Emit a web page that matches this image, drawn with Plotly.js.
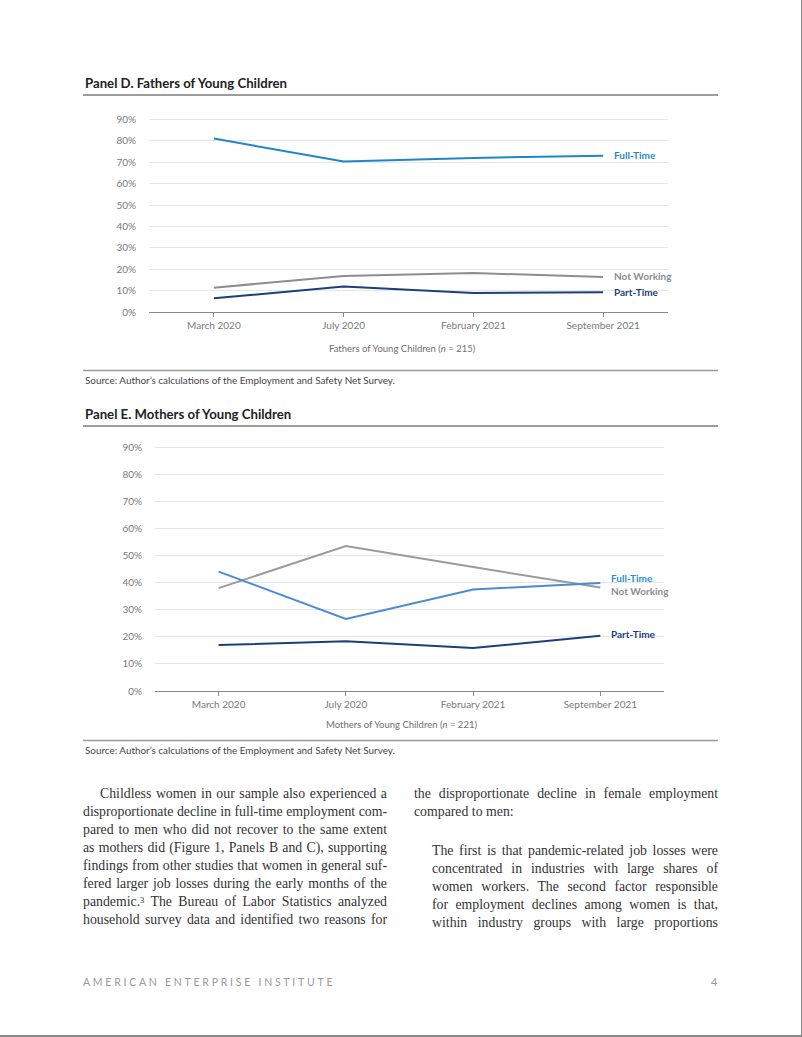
<!DOCTYPE html>
<html><head><meta charset="utf-8">
<script src="https://cdn.plot.ly/plotly-3.0.1.min.js"></script>
<style>
html,body{margin:0;padding:0;background:#fff;}
#page{position:relative;width:802px;height:1037px;overflow:hidden;background:#fff;}
#chart{position:absolute;left:0;top:0;width:802px;height:1037px;}
.col{position:absolute;font-family:"Liberation Serif","Times New Roman",serif;font-size:13.8px;line-height:18px;color:#333;}
.col .ln{white-space:nowrap;}
.col .ln span{display:inline-block;}
sup{font-size:8.5px;vertical-align:3px;line-height:0;}
#footer{position:absolute;left:83px;top:976px;font-family:Lato,sans-serif;font-size:10.5px;letter-spacing:2.75px;color:#9a9a9a;}
#pnum{position:absolute;left:711px;top:975px;font-family:Lato,sans-serif;font-size:11px;color:#9a9a9a;}
#rb{position:absolute;right:0;top:0;width:1px;height:1037px;background:#8a8a8a;}
#bb{position:absolute;left:0;bottom:0;width:802px;height:2px;background:#8a8a8a;}
</style></head>
<body>
<div id="page">
<div id="chart"></div>
<div class="col" id="left" style="left:83px;top:785px;width:304px;">
<div class="ln j" style="padding-left:17px"><span>Childless women in our sample also experienced a</span></div>
<div class="ln j"><span>disproportionate decline in full-time employment com-</span></div>
<div class="ln j"><span>pared to men who did not recover to the same extent</span></div>
<div class="ln j"><span>as mothers did (Figure 1, Panels B and C), supporting</span></div>
<div class="ln j"><span>findings from other studies that women in general suf-</span></div>
<div class="ln j"><span>fered larger job losses during the early months of the</span></div>
<div class="ln j"><span>pandemic.<sup>3</sup> The Bureau of Labor Statistics analyzed</span></div>
<div class="ln j"><span>household survey data and identified two reasons for</span></div>
</div>
<div class="col" id="right" style="left:414px;top:785px;width:304px;">
<div class="ln j"><span>the disproportionate decline in female employment</span></div>
<div class="ln"><span>compared to men:</span></div>
</div>
<div class="col" id="quote" style="left:432px;top:842px;width:286px;">
<div class="ln j"><span>The first is that pandemic-related job losses were</span></div>
<div class="ln j"><span>concentrated in industries with large shares of</span></div>
<div class="ln j"><span>women workers. The second factor responsible</span></div>
<div class="ln j"><span>for employment declines among women is that,</span></div>
<div class="ln j"><span>within industry groups with large proportions</span></div>
</div>
<div id="footer">AMERICAN ENTERPRISE INSTITUTE</div>
<div id="pnum">4</div>
<div id="rb"></div><div id="bb"></div>
</div>
<script>
// ---- Data ----
const periods = ['March 2020', 'July 2020', 'February 2021', 'September 2021'];
const fathersFullTime   = [0.81, 0.703, 0.72, 0.73];
const fathersNotWorking = [0.115, 0.169, 0.183, 0.165];
const fathersPartTime   = [0.065, 0.12, 0.09, 0.094];
const mothersFullTime   = [0.442, 0.267, 0.376, 0.40];
const mothersNotWorking = [0.381, 0.537, 0.459, 0.383];
const mothersPartTime   = [0.170, 0.184, 0.159, 0.205];
const seriesNames = ['Full-Time', 'Not Working', 'Part-Time'];

const W = 802, H = 1037;
const px = v => v / W;
const py = v => 1 - v / H;

const cFullD = '#1f87c9', cFullE = '#4b8bd3', cFullLblE = '#2690d6';
const cNotD = '#8c8c96', cNotE = '#9b9b9b', cPart = '#1b3f7b';

function tr(y, color, xa, ya, name) {
  return {x: periods, y: y, type: 'scatter', mode: 'lines', name: name,
    line: {color: color, width: 2}, xaxis: xa, yaxis: ya, hoverinfo: 'skip'};
}
const data = [
  tr(fathersNotWorking, cNotD, 'x', 'y', seriesNames[1]),
  tr(fathersPartTime, cPart, 'x', 'y', seriesNames[2]),
  tr(fathersFullTime, cFullD, 'x', 'y', seriesNames[0]),
  tr(mothersNotWorking, cNotE, 'x2', 'y2', seriesNames[1]),
  tr(mothersPartTime, cPart, 'x2', 'y2', seriesNames[2]),
  tr(mothersFullTime, cFullE, 'x2', 'y2', seriesNames[0])
];

const tickFont = {family: 'Lato, sans-serif', size: 10, color: '#7a7a7a'};
function xax(dom, anchor) {
  return {domain: dom, anchor: anchor, type: 'category', range: [-0.5, 3.5],
    showline: true, linecolor: '#8a8a8a', linewidth: 1, ticks: 'outside', ticklen: 4,
    tickcolor: '#8a8a8a', tickwidth: 1, tickfont: tickFont, showgrid: false, zeroline: false,
    fixedrange: true};
}
function yax(dom, anchor) {
  return {domain: dom, anchor: anchor, range: [0, 0.905], dtick: 0.1, tick0: 0,
    tickformat: '.0%', showgrid: true, gridcolor: '#e6e6e6', gridwidth: 1, zeroline: false,
    showline: false, ticks: '', tickfont: tickFont, ticklabelstandoff: 12, fixedrange: true};
}

function lbl(text, xa, ya, y, color, yshift) {
  return {text: text, xref: xa, yref: ya, x: 3, y: y, xanchor: 'left', yanchor: 'middle',
    xshift: 9, yshift: yshift, showarrow: false,
    font: {family: 'Lato, sans-serif', size: 10, color: color, weight: 700}};
}
function ptxt(text, x, y, size, color, weight, anchor) {
  return {text: text, xref: 'paper', yref: 'paper', x: px(x), y: py(y), xanchor: anchor || 'left',
    yanchor: 'middle', showarrow: false,
    font: {family: 'Lato, sans-serif', size: size, color: color, weight: weight || 400}};
}

const annotations = [
  ptxt('Panel D. Fathers of Young Children', 83, 83, 13.2, '#222', 700),
  ptxt('Fathers of Young Children (<i>n</i> = 215)', 402, 348, 9.5, '#6f6f6f', 400, 'center'),
  ptxt('Source: Author’s calculations of the Employment and Safety Net Survey.', 83, 380, 9.9, '#444'),
  ptxt('Panel E. Mothers of Young Children', 83, 414, 13.2, '#222', 700),
  ptxt('Mothers of Young Children (<i>n</i> = 221)', 401, 724, 9.5, '#6f6f6f', 400, 'center'),
  ptxt('Source: Author’s calculations of the Employment and Safety Net Survey.', 83, 750, 9.9, '#444'),
  lbl(seriesNames[0], 'x', 'y', fathersFullTime[3], cFullD, 1),
  lbl(seriesNames[1], 'x', 'y', fathersNotWorking[3], cNotD, 1),
  lbl(seriesNames[2], 'x', 'y', fathersPartTime[3], cPart, 0),
  lbl(seriesNames[0], 'x2', 'y2', mothersFullTime[3], cFullLblE, 5),
  lbl(seriesNames[1], 'x2', 'y2', mothersNotWorking[3], cNotD, -3),
  lbl(seriesNames[2], 'x2', 'y2', mothersPartTime[3], cPart, 2)
];

function hline(y, color, width) {
  return {type: 'line', xref: 'paper', yref: 'paper', x0: px(83), x1: px(718),
    y0: py(y), y1: py(y), line: {color: color, width: width}};
}
const shapes = [
  hline(95, '#3a3a3a', 1),
  hline(370.5, '#9a9a9a', 1.5),
  hline(426, '#3a3a3a', 1),
  hline(740.5, '#9a9a9a', 1.5)
];

const layout = {
  width: W, height: H, margin: {l: 0, r: 0, t: 0, b: 0, pad: 0},
  paper_bgcolor: 'rgba(0,0,0,0)', plot_bgcolor: 'rgba(0,0,0,0)', showlegend: false,
  xaxis: xax([px(149), px(668)], 'y'),
  yaxis: yax([py(312.3), py(118.2)], 'x'),
  xaxis2: xax([px(155), px(664)], 'y2'),
  yaxis2: yax([py(691), py(446.6)], 'x2'),
  annotations: annotations, shapes: shapes
};

Plotly.newPlot('chart', data, layout, {staticPlot: true, displayModeBar: false});

// justify text lines exactly
document.querySelectorAll('.col .ln.j').forEach(function (d) {
  const s = d.querySelector('span');
  const pad = parseFloat(getComputedStyle(d).paddingLeft) || 0;
  const target = d.clientWidth - pad;
  const nat = s.getBoundingClientRect().width;
  const n = (s.textContent.match(/ /g) || []).length;
  if (n > 0) s.style.wordSpacing = ((target - nat) / n) + 'px';
});
</script>
</body></html>
